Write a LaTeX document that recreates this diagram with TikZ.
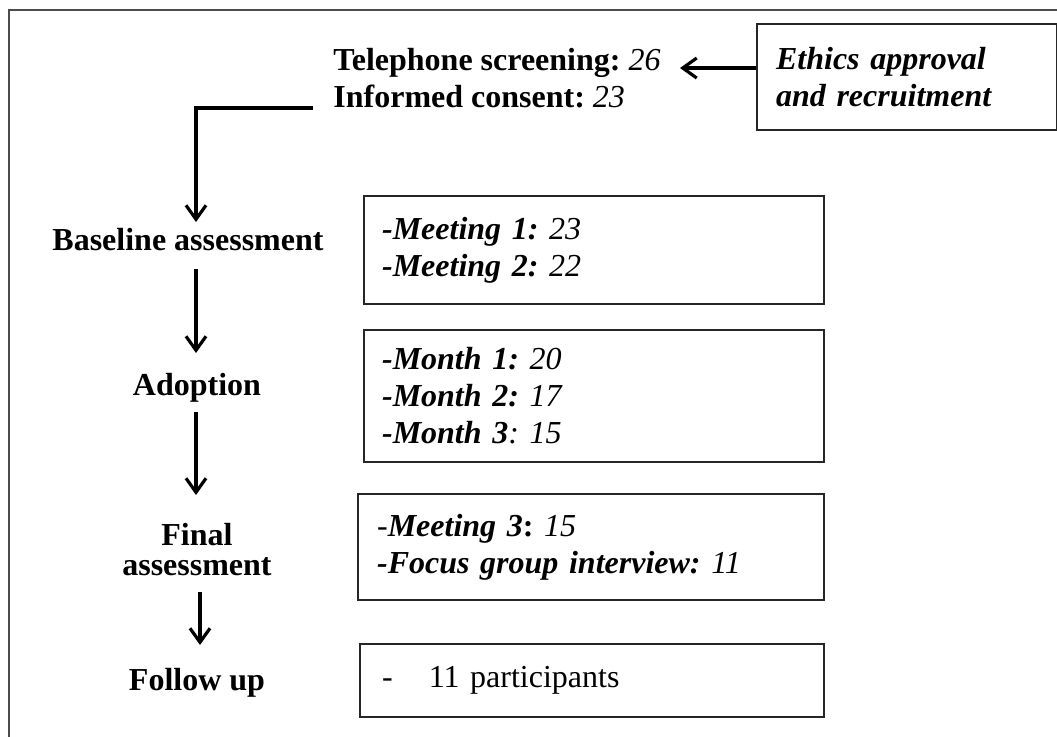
\documentclass[tikz,border=0pt]{standalone}
\usepackage{fontspec}
\setmainfont{Liberation Serif}
\usetikzlibrary{arrows.meta}
\newcommand{\bfit}[1]{\textbf{\textit{#1}}}
\frenchspacing

\begin{document}
\begin{tikzpicture}[x=0.5pt, y=-0.5pt, >={Straight Barb[length=7pt,width=10pt]},
		font=\fontsize{16}{18.5}\selectfont,
		card/.style={draw=black!85, line width=1.1pt, anchor=north west, align=left, inner ysep=0pt},
		stagelbl/.style={font=\fontsize{16}{15}\selectfont\bfseries, inner sep=0pt, align=center},
		flow/.style={->, line width=1.6pt}]
		% 1. page and outer frame
		\useasboundingbox (0,0) rectangle (1057,736);
		\draw[black!70, line width=1pt] (9,740) -- (9,10) -- (1060,10);
		
		% 2. recruitment at the top
		\node[card, minimum width=150pt, minimum height=53pt, inner xsep=9.5pt, text width=131pt,
			font=\fontsize{16}{18.5}\selectfont\bfseries\itshape] (ethics) at (756,23)
			{Ethics approval\\and recruitment};
		\node[anchor=north west, inner sep=0pt, align=left] (tele) at (333,48)
			{\textbf{Telephone screening:} \textit{26}\\\textbf{Informed consent:} \textit{23}};
		
		% 3. stages on the left
		\node[stagelbl, anchor=base] (base) at (188,250) {Baseline assessment};
		\node[stagelbl, anchor=base] (adopt) at (197,395) {Adoption};
		\node[stagelbl, anchor=north] (final) at (197,523) {Final\\assessment};
		\node[stagelbl, anchor=base] (follow) at (197,690) {Follow up};
		
		% 4. counts on the right
		\node[card, minimum width=230pt, minimum height=54pt, inner xsep=9pt, text width=212pt] (meet) at (363,195)
			{\bfit{-Meeting 1:} \textit{23}\\\bfit{-Meeting 2:} \textit{22}\\[-4pt]};
		\node[card, minimum width=230pt, minimum height=66pt, inner xsep=9pt, text width=212pt] (month) at (363,329)
			{\bfit{-Month 1:} \textit{20}\\\bfit{-Month 2:} \textit{17}\\\bfit{-Month 3}\textit{: 15}};
		\node[card, minimum width=233pt, minimum height=53pt, inner xsep=9.5pt, text width=214pt] (finalbox) at (357,493)
			{\textit{-}\bfit{Meeting 3}\textbf{:} \textit{15}\\\bfit{-Focus group interview:} \textit{11}};
		\node[card, minimum width=232pt, minimum height=36.5pt, inner xsep=11pt, text width=210pt] (followbox) at (359,643)
			{-\hspace{18pt}11 participants};
		
		% 5. arrows
		\coordinate (teletip) at (680,68);
		\coordinate (stub) at (313,108);
		\coordinate (basetip) at (196,222);
		\coordinate (a2s) at (196,269);
		\coordinate (a2e) at (196,353);
		\coordinate (a3s) at (196,412);
		\coordinate (a3e) at (196,495);
		\coordinate (a4s) at (200,592);
		\coordinate (a4e) at (200,645);
		\draw[flow] (ethics.west |- teletip) -- (teletip);
		\draw[flow] (stub) -| (basetip);
		\draw[flow] (a2s) -- (a2e);
		\draw[flow] (a3s) -- (a3e);
		\draw[flow] (a4s) -- (a4e);
	\end{tikzpicture}
\end{document}
